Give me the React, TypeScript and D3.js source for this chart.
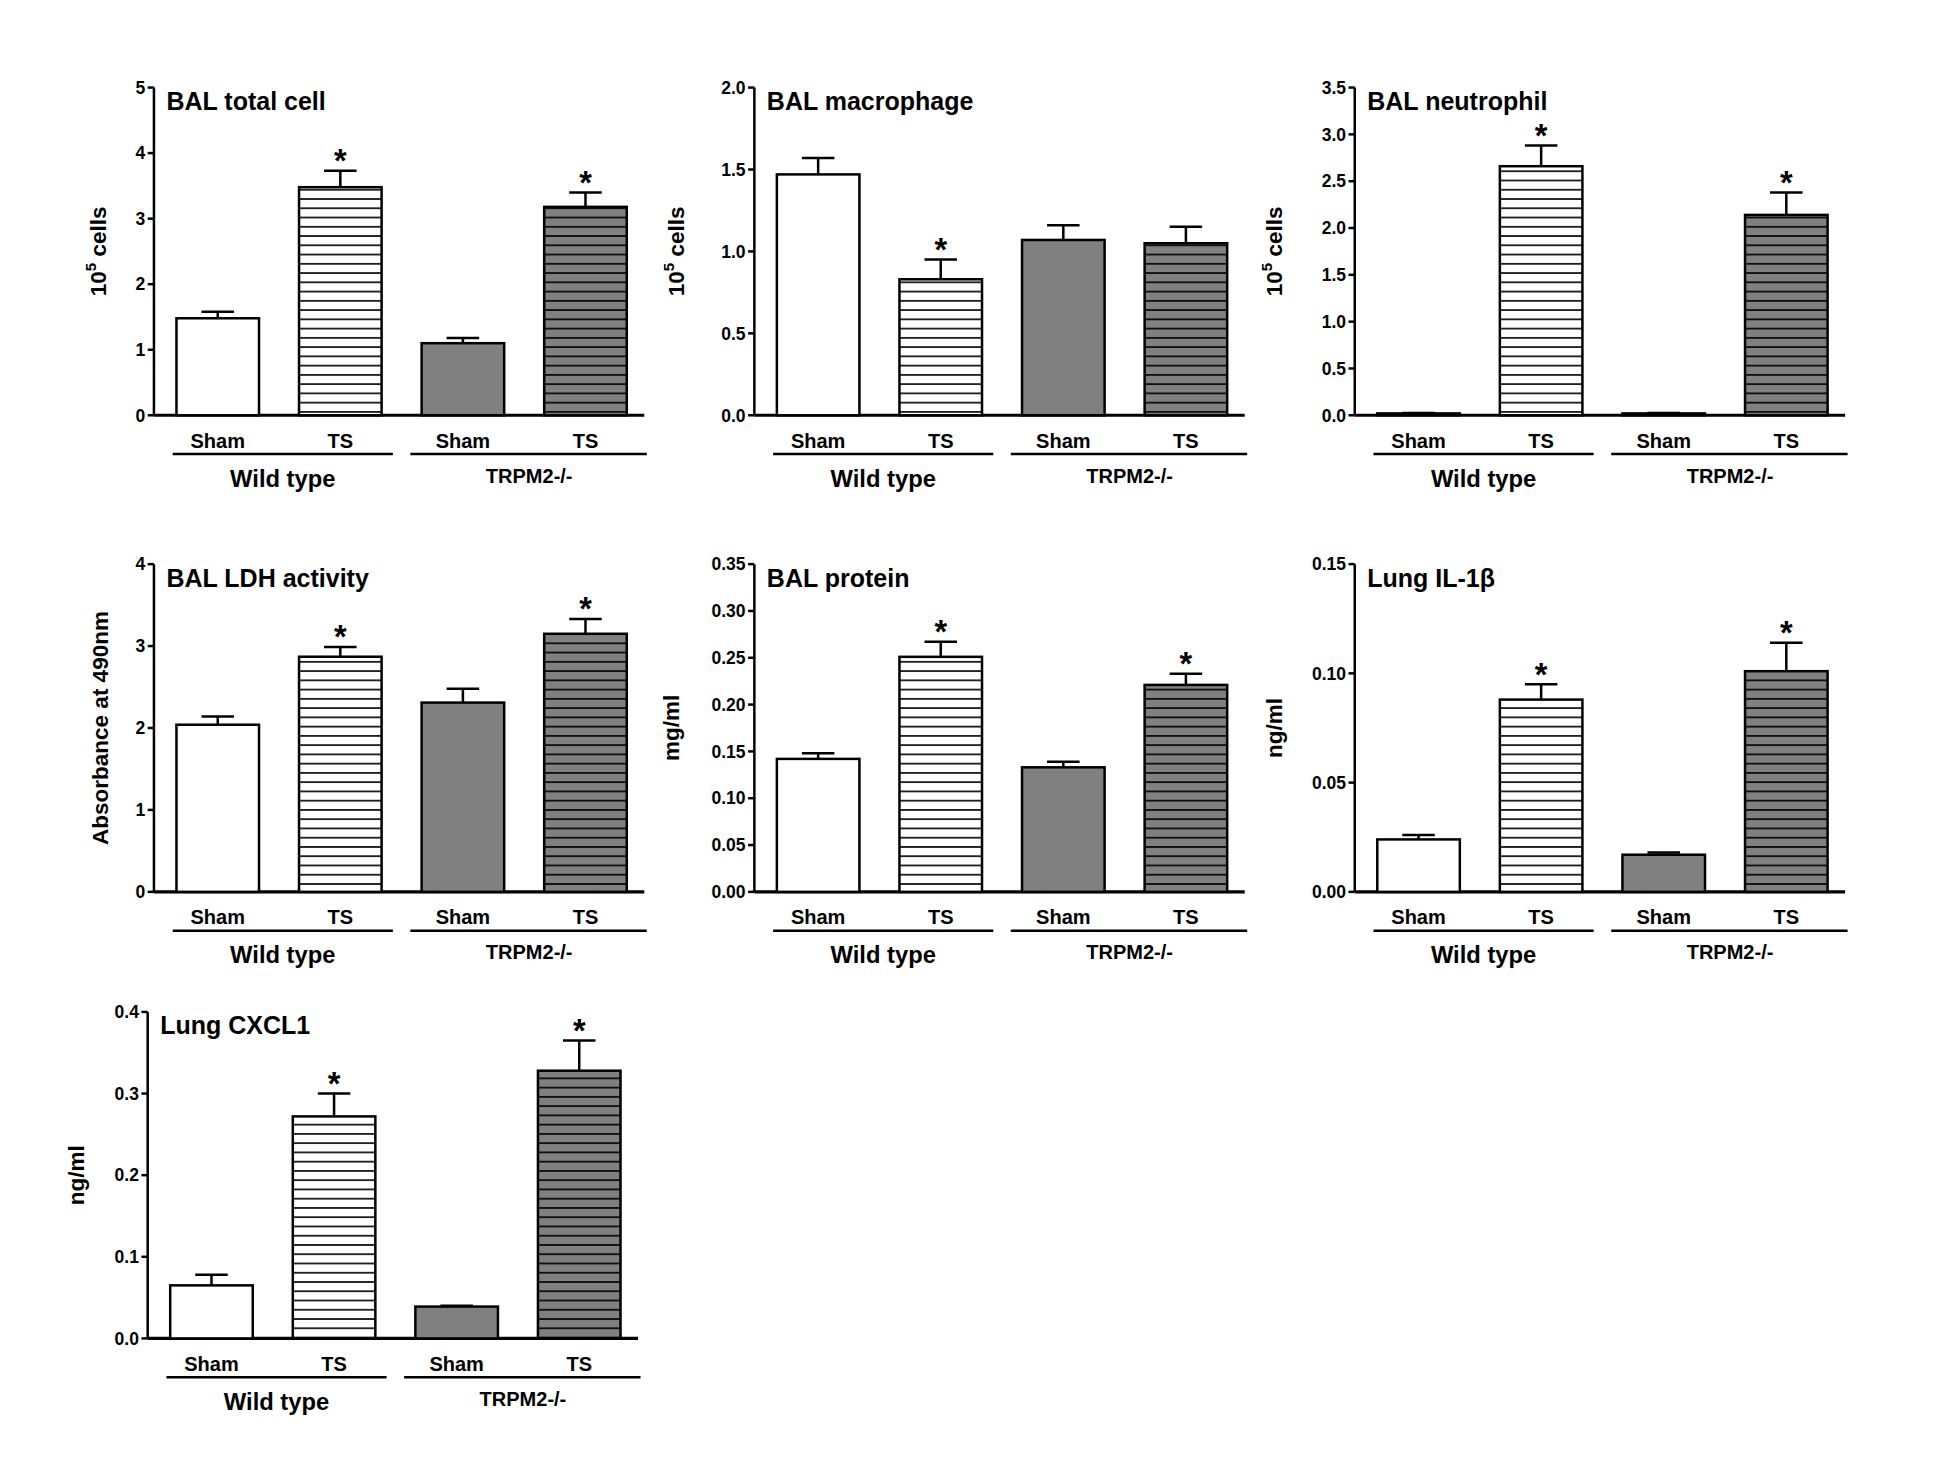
import React from 'react';
import * as d3 from 'd3';

const groups = ['Sham', 'TS', 'Sham', 'TS'];

const totalCell = [1.48, 3.48, 1.1, 3.18];
const totalCellErr = [0.1, 0.25, 0.08, 0.22];
const macrophage = [1.47, 0.83, 1.07, 1.05];
const macrophageErr = [0.1, 0.12, 0.09, 0.1];
const neutrophil = [0.02, 2.66, 0.02, 2.14];
const neutrophilErr = [0.005, 0.22, 0.005, 0.24];
const ldh = [2.04, 2.87, 2.31, 3.15];
const ldhErr = [0.1, 0.12, 0.17, 0.18];
const protein = [0.142, 0.251, 0.133, 0.221];
const proteinErr = [0.006, 0.016, 0.006, 0.012];
const il1b = [0.024, 0.088, 0.017, 0.101];
const il1bErr = [0.002, 0.007, 0.001, 0.013];
const cxcl1 = [0.065, 0.272, 0.039, 0.328];
const cxcl1Err = [0.013, 0.028, 0.001, 0.037];

const FONT = '"Liberation Sans Narrow", "Liberation Sans", Arial, sans-serif';

interface PanelProps {
  x0: number; top: number; bottom: number; labelDx: number;
  title: React.ReactNode; ylabel: React.ReactNode;
  values: number[]; errs: number[]; stars: boolean[];
  max: number; step: number; fmt: string;
}

const Panel: React.FC<PanelProps> = ({ x0, top, bottom, labelDx, title, ylabel, values, errs, stars, max, step, fmt }) => {
  const y = d3.scaleLinear().domain([0, max]).range([bottom, top]);
  const ticks = d3.range(0, max + step / 2, step);
  const f = d3.format(fmt);
  const barX = (i: number) => x0 + 18 + i * 98;
  const bw = 66;
  const fills = ['white', 'url(#hw)', '#808080', 'url(#hg)'];
  return (
    <g fontFamily={FONT} fontWeight="bold">
      <line x1={x0} x2={x0} y1={top} y2={bottom} stroke="black" strokeWidth={2} />
      <line x1={x0} x2={x0 + 392} y1={bottom} y2={bottom} stroke="black" strokeWidth={2.5} />
      {ticks.map((t) => (
        <g key={t}>
          <line x1={x0 - 5} x2={x0} y1={y(t)} y2={y(t)} stroke="black" strokeWidth={2} />
          <text x={x0 - 7} y={y(t) + 5} textAnchor="end" fontSize={14}>{f(t)}</text>
        </g>
      ))}
      <text x={x0 + 10} y={top + 18} fontSize={20}>{title}</text>
      <text transform={`translate(${x0 + labelDx},${(top + bottom) / 2}) rotate(-90)`} textAnchor="middle" fontSize={18}>{ylabel}</text>
      {values.map((v, i) => {
        const e = y(v + errs[i]);
        return (
          <g key={i}>
            <line x1={barX(i) + bw / 2} x2={barX(i) + bw / 2} y1={y(v)} y2={e} stroke="black" strokeWidth={2} />
            <line x1={barX(i) + bw / 2 - 13} x2={barX(i) + bw / 2 + 13} y1={e} y2={e} stroke="black" strokeWidth={2} />
            <rect x={barX(i)} y={y(v)} width={bw} height={bottom - y(v)} fill={fills[i]} stroke="black" strokeWidth={2} />
            {stars[i] && <text x={barX(i) + bw / 2} y={e + 1} textAnchor="middle" fontSize={26}>*</text>}
            <text x={barX(i) + bw / 2} y={bottom + 26} textAnchor="middle" fontSize={16}>{groups[i]}</text>
          </g>
        );
      })}
      <line x1={x0 + 15} x2={x0 + 191} y1={bottom + 31} y2={bottom + 31} stroke="black" strokeWidth={2} />
      <line x1={x0 + 205} x2={x0 + 394} y1={bottom + 31} y2={bottom + 31} stroke="black" strokeWidth={2} />
      <text x={x0 + 103} y={bottom + 57} textAnchor="middle" fontSize={19}>Wild type</text>
      <text x={x0 + 300} y={bottom + 54} textAnchor="middle" fontSize={16}>TRPM2-/-</text>
    </g>
  );
};

const cells = <>10<tspan dy={-8} fontSize={12}>5</tspan><tspan dy={8}> cells</tspan></>;
const S = [false, true, false, true];

export default function App() {
  return (
    <svg width={1939} height={1466} viewBox="0 0 1550 1172" style={{ position: 'absolute', left: 0, top: 0, background: 'white' }}>
      <defs>
        <pattern id="hw" patternUnits="userSpaceOnUse" width={8} height={7.4}>
          <rect width={8} height={7.4} fill="white" />
          <line x1={0} x2={8} y1={3.7} y2={3.7} stroke="black" strokeWidth={1.3} />
        </pattern>
        <pattern id="hg" patternUnits="userSpaceOnUse" width={8} height={7.4}>
          <rect width={8} height={7.4} fill="#808080" />
          <line x1={0} x2={8} y1={3.7} y2={3.7} stroke="black" strokeWidth={1.3} />
        </pattern>
      </defs>
      <Panel x0={123} top={70} bottom={332} labelDx={-38} title="BAL total cell" ylabel={cells}
        values={totalCell} errs={totalCellErr} stars={S} max={5} step={1} fmt=".0f" />
      <Panel x0={603} top={70} bottom={332} labelDx={-56} title="BAL macrophage" ylabel={cells}
        values={macrophage} errs={macrophageErr} stars={[false, true, false, false]} max={2} step={0.5} fmt=".1f" />
      <Panel x0={1083} top={70} bottom={332} labelDx={-58} title="BAL neutrophil" ylabel={cells}
        values={neutrophil} errs={neutrophilErr} stars={S} max={3.5} step={0.5} fmt=".1f" />
      <Panel x0={123} top={451} bottom={713} labelDx={-37} title="BAL LDH activity" ylabel="Absorbance at 490nm"
        values={ldh} errs={ldhErr} stars={S} max={4} step={1} fmt=".0f" />
      <Panel x0={603} top={451} bottom={713} labelDx={-60} title="BAL protein" ylabel="mg/ml"
        values={protein} errs={proteinErr} stars={S} max={0.35} step={0.05} fmt=".2f" />
      <Panel x0={1083} top={451} bottom={713} labelDx={-58} title="Lung IL-1β" ylabel="ng/ml"
        values={il1b} errs={il1bErr} stars={S} max={0.15} step={0.05} fmt=".2f" />
      <Panel x0={118} top={809} bottom={1070} labelDx={-51} title="Lung CXCL1" ylabel="ng/ml"
        values={cxcl1} errs={cxcl1Err} stars={S} max={0.4} step={0.1} fmt=".1f" />
    </svg>
  );
}
